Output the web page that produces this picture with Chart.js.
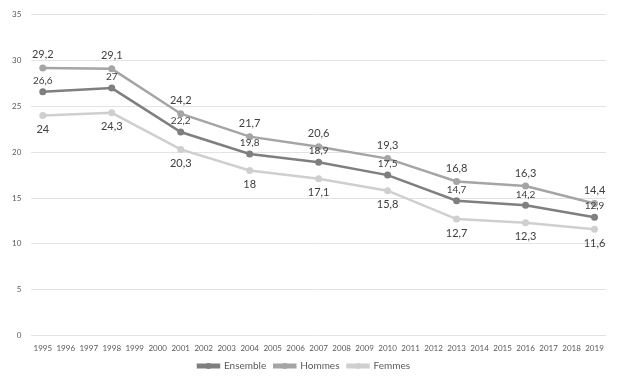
<!DOCTYPE html>
<html><head><meta charset="utf-8">
<script src="https://cdn.jsdelivr.net/npm/chart.js@4/dist/chart.umd.min.js"></script>
<style>html,body{margin:0;padding:0;background:#fff}#wrap{width:636px;height:383px}</style>
</head><body><div id="wrap"><canvas id="c" width="636" height="383"></canvas></div>
<script>
const years = ['1995','1996','1997','1998','1999','2000','2001','2002','2003','2004','2005','2006','2007','2008','2009','2010','2011','2012','2013','2014','2015','2016','2017','2018','2019'];
const ensemble = [26.6,null,null,27,null,null,22.2,null,null,19.8,null,null,18.9,null,null,17.5,null,null,14.7,null,null,14.2,null,null,12.9];
const hommes   = [29.2,null,null,29.1,null,null,24.2,null,null,21.7,null,null,20.6,null,null,19.3,null,null,16.8,null,null,16.3,null,null,14.4];
const femmes   = [24,null,null,24.3,null,null,20.3,null,null,18,null,null,17.1,null,null,15.8,null,null,12.7,null,null,12.3,null,null,11.6];
const yTicks = [0,5,10,15,20,25,30,35];

const FONT = 'Lato, "Open Sans", sans-serif';
const colors = ['#7f7f7f','#a5a5a5','#cfcfcf'];
const labelPos = ['above','above','below'];

const dataLabels = {
  id:'dataLabels',
  afterDatasetsDraw(chart){
    const ctx = chart.ctx;
    ctx.save();
    ctx.fillStyle = '#404040';
    ctx.textAlign = 'center';
    ctx.textBaseline = 'middle';
    chart.data.datasets.forEach((ds,i)=>{
      const meta = chart.getDatasetMeta(i);
      ctx.font = (i===0 ? '10px ' : '11px ') + FONT;
      meta.data.forEach((pt,j)=>{
        const v = ds.data[j];
        if (v === null) return;
        const dy = labelPos[i]==='above' ? (i===0 ? -11 : -13) : 14;
        ctx.fillText(String(v).replace('.',','), pt.x, pt.y + dy);
      });
    });
    ctx.restore();
  }
};
// adds the marker dot on top of the thin legend line boxes
const legendDots = {
  id:'legendDots',
  afterDraw(chart){
    const lg = chart.legend; if (!lg || !lg.legendHitBoxes) return;
    const ctx = chart.ctx; const bw = lg.options.labels.boxWidth;
    ctx.save();
    lg.legendHitBoxes.forEach((hb,i)=>{
      ctx.fillStyle = colors[i];
      ctx.beginPath(); ctx.arc(hb.left + bw/2, hb.top + hb.height/2, 3, 0, Math.PI*2); ctx.fill();
    });
    ctx.restore();
  }
};

new Chart(document.getElementById('c'), {
  type:'line',
  data:{
    labels: years,
    datasets:[
      {label:'Ensemble', data:ensemble, borderColor:colors[0], backgroundColor:colors[0]},
      {label:'Hommes', data:hommes, borderColor:colors[1], backgroundColor:colors[1]},
      {label:'Femmes', data:femmes, borderColor:colors[2], backgroundColor:colors[2]}
    ].map(d=>Object.assign(d,{spanGaps:true, borderWidth:2.5, pointRadius:3.5, pointBorderWidth:0, pointStyle:'circle', tension:0}))
  },
  options:{
    responsive:false, animation:false,
    layout:{padding:{left:2, right:30, top:8, bottom:2}},
    plugins:{
      legend:{position:'bottom', labels:{boxWidth:21, boxHeight:2.5, font:{size:10, family:FONT}, color:'#595959', padding:8}},
      tooltip:{enabled:false}
    },
    scales:{
      x:{offset:true, grid:{display:false}, border:{display:false},
         ticks:{font:{size:8, family:FONT}, color:'#595959', maxRotation:0, autoSkip:false, padding:0}},
      y:{min:0, max:35, afterBuildTicks(s){s.ticks = yTicks.map(v=>({value:v}));},
         grid:{color:'#e3e3e3', drawTicks:false}, border:{display:false},
         ticks:{font:{size:8, family:FONT}, color:'#595959', padding:10}}
    }
  },
  plugins:[dataLabels, legendDots]
});
</script></body></html>
